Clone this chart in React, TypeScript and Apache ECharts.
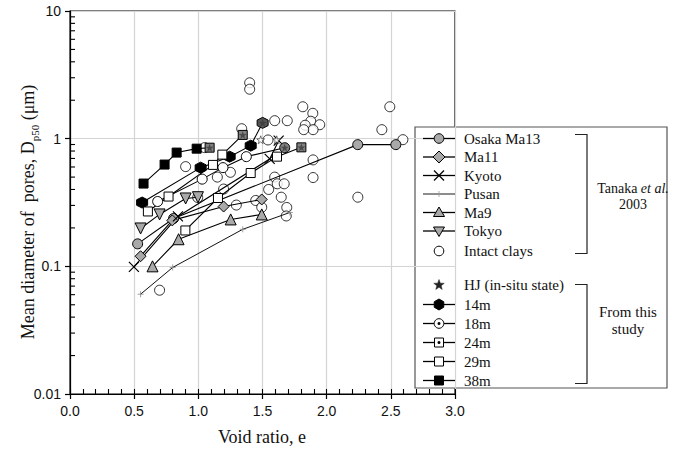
import React, { useEffect, useRef } from "react";
import * as echarts from "echarts";

// Void ratio (e) and mean pore diameter Dp50 (μm) per series
const osakaE = [0.527, 0.807, 2.242, 2.539];
const osakaD = [0.15, 0.237, 0.898, 0.898];
const ma11E = [0.55, 0.797, 1.197, 1.494];
const ma11D = [0.12, 0.229, 0.294, 0.334];
const kyotoE = [0.498, 0.841, 1.556, 1.626];
const kyotoD = [0.099, 0.246, 0.694, 0.965];
const pusanE = [0.55, 0.8, 1.346, 1.713];
const pusanD = [0.0605, 0.098, 0.195, 0.264];
const ma9E = [0.643, 0.846, 1.252, 1.494];
const ma9D = [0.1, 0.163, 0.233, 0.255];
const tokyoE = [0.55, 0.698, 0.901, 0.997];
const tokyoD = [0.198, 0.255, 0.34, 0.348];

const intactE = [
  0.698, 0.901, 0.995, 1.049, 1.148, 1.197, 1.25, 1.296, 1.338, 1.4, 1.4, 1.447,
  1.494, 1.543, 1.548, 1.595, 1.595, 1.615, 1.646, 1.669, 1.693, 1.689, 1.685,
  1.814, 1.892, 1.876, 1.833, 1.946, 1.894, 1.821, 1.894, 1.894, 2.243, 2.43,
  2.492, 2.594,
];
const intactD = [
  0.065, 0.604, 0.346, 0.851, 0.5, 0.403, 0.545, 0.302, 1.197, 2.74, 2.44, 0.328,
  0.29, 0.977, 0.4, 1.383, 0.5, 0.443, 0.348, 0.443, 1.383, 0.289, 0.248,
  1.778, 1.58, 1.37, 1.274, 1.286, 1.176, 1.176, 0.682, 0.496, 0.348, 1.176,
  1.778, 0.982,
];

const m14E = [0.562, 1.018, 1.244, 1.408, 1.501];
const m14D = [0.316, 0.593, 0.723, 0.882, 1.33];
const m18E = [0.683, 1.03, 1.192, 1.374, 1.673];
const m18D = [0.322, 0.482, 0.593, 0.723, 0.85];
const m24E = [0.899, 1.153, 1.408, 1.613, 1.803];
const m24D = [0.191, 0.343, 0.538, 0.723, 0.855];
const m29E = [0.607, 0.768, 1.114, 1.187, 1.346];
const m29D = [0.269, 0.352, 0.623, 0.75, 1.07];
const m38E = [0.573, 0.737, 0.831, 0.987, 1.088];
const m38D = [0.445, 0.627, 0.778, 0.835, 0.85];

// In-situ state points (HJ)
const hjE = [1.088, 1.346, 1.501, 1.673, 1.803, 1.486, 1.611];
const hjD = [0.85, 1.07, 1.33, 0.85, 0.855, 0.98, 0.98];

const xTickLabels = ["0.0", "0.5", "1.0", "1.5", "2.0", "2.5", "3.0"];
const yMinorMultipliers = [2, 3, 4, 5, 6, 7, 8, 9];
const yDecadeBases = [0.01, 0.1, 1];

const legendTanaka = ["Osaka Ma13", "Ma11", "Kyoto", "Pusan", "Ma9", "Tokyo", "Intact clays"];
const legendStudy = ["HJ (in-situ state)", "14m", "18m", "24m", "29m", "38m"];

const GRAY = "#a9a9a9";
const END_GRAY = "#808080";
const SERIF = "'Liberation Serif', 'Times New Roman', serif";
const SANS = "'Liberation Sans', Arial, sans-serif";

const SYM = {
  hexagon: "path://M50,0L93.3,25L93.3,75L50,100L6.7,75L6.7,25Z",
  star: "path://M50,0L61.8,35.1L98.5,35.3L69,57.2L79.4,92.7L50,71.3L20.6,92.7L31,57.2L1.5,35.3L38.2,35.1Z",
  cross: "path://M0,0L10,10M10,0L0,10",
  plus: "path://M5,0L5,10M0,5L10,5",
};

function pairs(es: number[], ds: number[]) {
  return es.map((e, i) => [e, ds[i]]);
}

function pairsGrayEnd(es: number[], ds: number[], endColor: string) {
  return es.map((e, i) =>
    i === es.length - 1 ? { value: [e, ds[i]], itemStyle: { color: endColor } } : [e, ds[i]]
  );
}

function lineSeries(name: string, data: any[], symbol: string, size: number, fill: string, extra: any = {}) {
  return {
    type: "line",
    name,
    data,
    symbol,
    symbolSize: size,
    showAllSymbol: true,
    lineStyle: { color: "#000", width: 1.1 },
    itemStyle: { color: fill, borderColor: "#000", borderWidth: 1 },
    emphasis: { disabled: true },
    ...extra,
  };
}

// Legend marker drawn with graphic elements
function legendMarker(kind: string, cx: number, cy: number, withLine: boolean): any[] {
  const els: any[] = [];
  if (withLine) {
    els.push({
      type: "line",
      z2: 1,
      shape: { x1: cx - 16, y1: cy, x2: cx + 16, y2: cy },
      style: { stroke: "#000", lineWidth: kind === "plus" ? 0.9 : 1.3 },
    });
  }
  const stroke = { stroke: "#000", lineWidth: 1 };
  const add = (el: any) => els.push({ z2: 5, ...el });
  switch (kind) {
    case "circleGray":
      add({ type: "circle", shape: { cx, cy, r: 4.8 }, style: { fill: GRAY, ...stroke } });
      break;
    case "diamond":
      add({
        type: "polygon",
        shape: { points: [[cx, cy - 6], [cx + 6, cy], [cx, cy + 6], [cx - 6, cy]] },
        style: { fill: GRAY, ...stroke },
      });
      break;
    case "cross":
      add({ type: "line", shape: { x1: cx - 5, y1: cy - 5, x2: cx + 5, y2: cy + 5 }, style: { stroke: "#000", lineWidth: 1.2 } });
      add({ type: "line", shape: { x1: cx + 5, y1: cy - 5, x2: cx - 5, y2: cy + 5 }, style: { stroke: "#000", lineWidth: 1.2 } });
      break;
    case "plus":
      add({ type: "line", shape: { x1: cx, y1: cy - 3, x2: cx, y2: cy + 3 }, style: { stroke: "#999", lineWidth: 0.8 } });
      break;
    case "triUp":
      add({
        type: "polygon",
        shape: { points: [[cx, cy - 5.5], [cx + 5.5, cy + 4], [cx - 5.5, cy + 4]] },
        style: { fill: GRAY, ...stroke },
      });
      break;
    case "triDown":
      add({
        type: "polygon",
        shape: { points: [[cx, cy + 5.5], [cx + 5.5, cy - 4], [cx - 5.5, cy - 4]] },
        style: { fill: GRAY, ...stroke },
      });
      break;
    case "circleOpen":
      add({ type: "circle", shape: { cx, cy, r: 4.8 }, style: { fill: "#fff", ...stroke } });
      break;
    case "star": {
      const pts: number[][] = [];
      for (let k = 0; k < 10; k++) {
        const r = k % 2 === 0 ? 5.5 : 2.3;
        const a = -Math.PI / 2 + (k * Math.PI) / 5;
        pts.push([cx + r * Math.cos(a), cy + r * Math.sin(a)]);
      }
      add({ type: "polygon", shape: { points: pts }, style: { fill: "#222", stroke: "#222", lineWidth: 0.5 } });
      break;
    }
    case "hexagon": {
      const pts: number[][] = [];
      for (let k = 0; k < 6; k++) {
        const a = -Math.PI / 2 + (k * Math.PI) / 3;
        pts.push([cx + 5.5 * Math.cos(a), cy + 5.5 * Math.sin(a)]);
      }
      add({ type: "polygon", shape: { points: pts }, style: { fill: "#000", ...stroke } });
      break;
    }
    case "circleDot":
      add({ type: "circle", shape: { cx, cy, r: 4.8 }, style: { fill: "#fff", ...stroke } });
      add({ type: "circle", z2: 6, shape: { cx, cy, r: 1.5 }, style: { fill: "#000" } });
      break;
    case "squareDot":
      add({ type: "rect", shape: { x: cx - 4.5, y: cy - 4.5, width: 9, height: 9 }, style: { fill: "#fff", ...stroke } });
      add({ type: "circle", z2: 6, shape: { cx, cy, r: 1.5 }, style: { fill: "#000" } });
      break;
    case "squareOpen":
      add({ type: "rect", shape: { x: cx - 4.5, y: cy - 4.5, width: 9, height: 9 }, style: { fill: "#fff", ...stroke } });
      break;
    case "squareBlack":
      add({ type: "rect", shape: { x: cx - 4.5, y: cy - 4.5, width: 9, height: 9 }, style: { fill: "#000", ...stroke } });
      break;
  }
  return els;
}

export default function App() {
  const ref = useRef<HTMLDivElement>(null);

  useEffect(() => {
    if (!ref.current) return;
    document.body.style.margin = "0";
    const chart = echarts.init(ref.current, null, { renderer: "svg" });

    // minor tick positions of the log axis (2..9 within each decade)
    const yMinorTicks: number[][] = [];
    yDecadeBases.forEach((b) => yMinorMultipliers.forEach((k) => yMinorTicks.push([0, k * b])));

    const tanakaKinds = ["circleGray", "diamond", "cross", "plus", "triUp", "triDown", "circleOpen"];
    const studyKinds = ["star", "hexagon", "circleDot", "squareDot", "squareOpen", "squareBlack"];
    const tanakaRowY = [138.5, 157, 175.5, 194, 212.5, 231, 251];
    const studyRowY = [285, 304.5, 323.5, 342.5, 361.5, 380.5];

    const legendEls: any[] = [
      {
        type: "rect",
        z2: 0,
        shape: { x: 415, y: 127, width: 252, height: 261 },
        style: { fill: "#fff", stroke: "#555", lineWidth: 1.2 },
      },
    ];
    legendTanaka.forEach((name, i) => {
      legendEls.push(...legendMarker(tanakaKinds[i], 439, tanakaRowY[i], tanakaKinds[i] !== "circleOpen"));
      legendEls.push({
        type: "text",
        z2: 5,
        x: 464,
        y: tanakaRowY[i],
        style: { text: name, font: `15px ${SERIF}`, fill: "#111", verticalAlign: "middle" },
      });
    });
    legendStudy.forEach((name, i) => {
      legendEls.push(...legendMarker(studyKinds[i], 439, studyRowY[i], studyKinds[i] !== "star"));
      legendEls.push({
        type: "text",
        z2: 5,
        x: 464,
        y: studyRowY[i],
        style: { text: name, font: `15px ${SERIF}`, fill: "#111", verticalAlign: "middle" },
      });
    });
    // group brackets
    legendEls.push({
      type: "polyline",
      z2: 5,
      shape: { points: [[575, 134.5], [587, 134.5], [587, 253.5], [575, 253.5]] },
      style: { stroke: "#222", lineWidth: 1.2, fill: null },
    });
    legendEls.push({
      type: "polyline",
      z2: 5,
      shape: { points: [[575, 284.5], [587, 284.5], [587, 383.5], [575, 383.5]] },
      style: { stroke: "#222", lineWidth: 1.2, fill: null },
    });
    legendEls.push({
      type: "text",
      z2: 5,
      x: 633,
      y: 196,
      style: {
        text: "{n|Tanaka }{i|et al.}\n{n|2003}",
        align: "center",
        verticalAlign: "middle",
        rich: {
          n: { font: `14px ${SERIF}`, fill: "#111", lineHeight: 16 },
          i: { font: `italic 14px ${SERIF}`, fill: "#111", lineHeight: 16 },
        },
      },
    });
    legendEls.push({
      type: "text",
      z2: 5,
      x: 628,
      y: 320,
      style: {
        text: "From this\nstudy",
        align: "center",
        verticalAlign: "middle",
        font: `15px ${SERIF}`,
        lineHeight: 17,
        fill: "#111",
      },
    });

    // axis titles
    legendEls.push({
      type: "text",
      x: 262,
      y: 437,
      style: { text: "Void ratio, e", font: `18px ${SERIF}`, fill: "#111", align: "center", verticalAlign: "middle" },
    });
    legendEls.push({
      type: "text",
      x: 28,
      y: 212,
      rotation: Math.PI / 2,
      style: {
        text: "{a|Mean diameter of  pores, D}{s|p50}{a| (μm)}",
        align: "center",
        verticalAlign: "middle",
        rich: {
          a: { fontFamily: SERIF, fontSize: 18, fill: "#111", lineHeight: 24, verticalAlign: "middle" },
          s: { fontFamily: SERIF, fontSize: 11, fill: "#111", lineHeight: 12, verticalAlign: "bottom" },
        },
      },
    });

    const option: any = {
      animation: false,
      backgroundColor: "#fff",
      grid: {
        left: 70,
        right: 221,
        top: 11,
        bottom: 66,
        show: true,
        borderColor: "#000",
        borderWidth: 1.2,
        backgroundColor: "transparent",
      },
      xAxis: [
        {
          type: "value",
          min: 0,
          max: 3,
          interval: 0.5,
          position: "bottom",
          axisLine: { show: true, onZero: false, lineStyle: { color: "#000", width: 1.2 } },
          axisTick: { show: true, inside: false, length: 5, lineStyle: { color: "#000", width: 1.2 } },
          axisLabel: {
            color: "#111",
            fontFamily: SANS,
            fontSize: 14,
            margin: 10,
            formatter: (v: number) => xTickLabels[Math.round(v / 0.5)],
          },
          splitLine: { show: true, lineStyle: { color: "#d4d4d4", width: 1.2 } },
        },
        {
          // minor ticks every 0.1, pointing into the plot
          type: "value",
          min: 0,
          max: 3,
          interval: 0.1,
          position: "bottom",
          axisLine: { show: false, onZero: false },
          axisTick: { show: true, inside: true, length: 5, lineStyle: { color: "#000", width: 1.1 } },
          axisLabel: { show: false },
          splitLine: { show: false },
        },
      ],
      yAxis: [
        {
          type: "log",
          logBase: 10,
          min: 0.01,
          max: 10,
          position: "left",
          axisLine: { show: true, onZero: false, lineStyle: { color: "#000", width: 1.2 } },
          axisTick: { show: true, inside: false, length: 5, lineStyle: { color: "#000", width: 1.2 } },
          axisLabel: { color: "#111", fontFamily: SANS, fontSize: 14, margin: 9 },
          splitLine: { show: true, lineStyle: { color: "#d4d4d4", width: 1.2 } },
        },
      ],
      graphic: legendEls,
      series: [
        {
          // minor ticks of the log axis, drawn inward from the left axis line
          type: "custom",
          name: "y-minor-ticks",
          data: yMinorTicks,
          silent: true,
          clip: false,
          z: 3,
          renderItem: (_params: any, api: any) => {
            const p = api.coord([api.value(0), api.value(1)]);
            return {
              type: "line",
              shape: { x1: p[0], y1: p[1], x2: p[0] + 5, y2: p[1] },
              style: { stroke: "#000", lineWidth: 1.1 },
            };
          },
        },
        lineSeries("Osaka Ma13", pairs(osakaE, osakaD), "circle", 10, GRAY),
        lineSeries("Ma11", pairs(ma11E, ma11D), "diamond", 11, GRAY),
        lineSeries("Kyoto", pairs(kyotoE, kyotoD), SYM.cross, 10, "transparent", {
          itemStyle: { color: "transparent", borderColor: "#000", borderWidth: 1.2 },
        }),
        lineSeries("Pusan", pairs(pusanE, pusanD), SYM.plus, 6, "transparent", {
          lineStyle: { color: "#111", width: 1 },
          itemStyle: { color: "transparent", borderColor: "#888", borderWidth: 0.8 },
        }),
        lineSeries("Ma9", pairs(ma9E, ma9D), "triangle", 11, GRAY),
        lineSeries("Tokyo", pairs(tokyoE, tokyoD), "triangle", 11, GRAY, { symbolRotate: 180 }),
        {
          type: "scatter",
          name: "Intact clays",
          data: pairs(intactE, intactD),
          symbol: "circle",
          symbolSize: 10,
          itemStyle: { color: "#fff", borderColor: "#000", borderWidth: 1 },
          emphasis: { disabled: true },
        },
        lineSeries("14m", pairsGrayEnd(m14E, m14D, "#555"), SYM.hexagon, 11, "#000"),
        lineSeries("18m", pairsGrayEnd(m18E, m18D, END_GRAY), "circle", 10, "#fff"),
        {
          type: "scatter",
          name: "18m-dot",
          data: pairs(m18E, m18D),
          symbol: "circle",
          symbolSize: 3,
          itemStyle: { color: "#000" },
          emphasis: { disabled: true },
        },
        lineSeries("24m", pairsGrayEnd(m24E, m24D, END_GRAY), "rect", 9, "#fff"),
        {
          type: "scatter",
          name: "24m-dot",
          data: pairs(m24E, m24D),
          symbol: "circle",
          symbolSize: 3,
          itemStyle: { color: "#000" },
          emphasis: { disabled: true },
        },
        lineSeries("29m", pairsGrayEnd(m29E, m29D, END_GRAY), "rect", 9, "#fff"),
        lineSeries("38m", pairsGrayEnd(m38E, m38D, END_GRAY), "rect", 9, "#000"),
        {
          type: "scatter",
          name: "HJ (in-situ state)",
          data: hjE.map((e, i) =>
            i >= 5
              ? { value: [e, hjD[i]], itemStyle: { color: "#fff", borderColor: "#333", borderWidth: 0.8 } }
              : [e, hjD[i]]
          ),
          symbol: SYM.star,
          symbolSize: 8,
          itemStyle: { color: "#3a3a3a" },
          emphasis: { disabled: true },
          z: 5,
        },
      ],
    };

    chart.setOption(option);
    return () => chart.dispose();
  }, []);

  return <div ref={ref} style={{ width: 676, height: 460 }} />;
}
